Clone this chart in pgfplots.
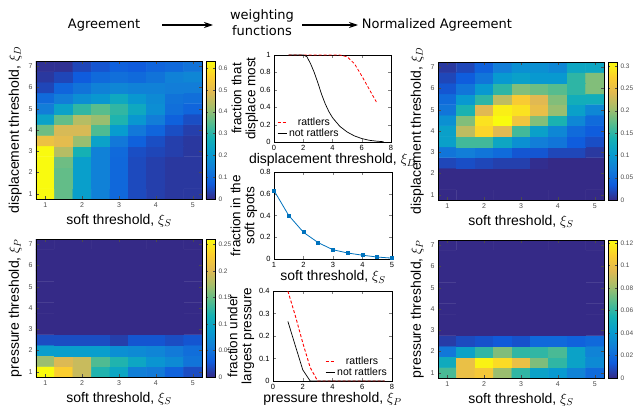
\documentclass[border=0pt]{standalone}
\usepackage{pgfplots}
\pgfplotsset{compat=1.18}
\usepackage{fontspec}
\setmainfont{Liberation Sans}
\newfontfamily\titlefont{DejaVu Sans}
\usetikzlibrary{arrows.meta}

\pgfplotsset{
  colormap={parula}{rgb255=(53,42,135) rgb255=(15,92,221) rgb255=(18,125,216)
    rgb255=(7,156,207) rgb255=(21,177,180) rgb255=(89,189,140) rgb255=(165,190,107)
    rgb255=(225,185,82) rgb255=(252,206,46) rgb255=(249,251,14)},
  base/.style={
    scale only axis,
    /pgf/number format/assume math mode=true,
    /pgf/number format/fixed, /pgf/number format/precision=3,
    tick align=inside, xtick pos=both, ytick pos=both,
    major tick length=3pt,
    label style={font=\fontsize{14}{16}\selectfont},
  },
  heat/.style={
    base,
    width=166pt, height=138pt,
    xmin=0.75, xmax=5.25, ymin=0.75, ymax=7.25,
    xtick={1,...,5}, ytick={1,...,7},
    tick label style={font=\fontsize{7}{8}\selectfont, text=black!70},
    tick style={black!70},
    axis on top,
    colormap name=parula,
    colorbar,
    colorbar shift/.style={},
    colorbar style={
      at={(parent axis.north east)}, anchor=north west, xshift=4pt,
      width=9pt,
      major tick length=2pt,
      yticklabel style={font=\fontsize{6.5}{7}\selectfont, text=black!70,
        /pgf/number format/fixed, /pgf/number format/precision=3},
      /pgf/number format/assume math mode=true,
    },
    xlabel={soft threshold, $\xi_S$},
  },
  mid/.style={
    base,
    tick label style={font=\fontsize{7.5}{8}\selectfont},
    xlabel shift=-4pt,
    ylabel style={align=center, font=\fontsize{13.5}{14}\selectfont},
    legend style={draw=none, fill=none, font=\fontsize{10.5}{11}\selectfont,
      row sep=-2pt},
    legend image code/.code={\draw[#1] (0pt,0pt) -- (9pt,0pt);},
  },
}

\begin{document}
\begin{tikzpicture}

% titles
\node[font=\titlefont\fontsize{13}{15}\selectfont] at (104pt,-25pt) {Agreement};
\node[font=\titlefont\fontsize{13}{16}\selectfont, align=center] at (262pt,-23pt) {weighting\\functions};
\node[font=\titlefont\fontsize{13}{15}\selectfont] at (437pt,-25pt) {Normalized Agreement};
\draw[-{Stealth[length=9pt,width=6pt]}, line width=1.1pt] (162pt,-25pt) -- (213pt,-25pt);
\draw[-{Stealth[length=9pt,width=6pt]}, line width=1.1pt] (302pt,-25pt) -- (358pt,-25pt);

% Agreement, displacement
\begin{axis}[heat, at={(36pt,-199pt)}, anchor=south west,
  ylabel={displacement threshold, $\xi_D$},
  point meta min=0, point meta max=0.632,
  colorbar style={ytick={0,0.1,0.2,0.3,0.4,0.5,0.6}}]
\addplot[matrix plot*, mesh/cols=9, mesh/rows=13, point meta=explicit] coordinates {
(1,1)[0.63] (1.5,1)[0.36] (2,1)[0.22] (2.5,1)[0.15] (3,1)[0.095] (3.5,1)[0.045] (4,1)[0.03] (4.5,1)[0.02] (5,1)[0.02]
(1,1.5)[0.63] (1.5,1.5)[0.36] (2,1.5)[0.22] (2.5,1.5)[0.15] (3,1.5)[0.095] (3.5,1.5)[0.045] (4,1.5)[0.03] (4.5,1.5)[0.02] (5,1.5)[0.02]
(1,2)[0.63] (1.5,2)[0.36] (2,2)[0.22] (2.5,2)[0.15] (3,2)[0.095] (3.5,2)[0.045] (4,2)[0.03] (4.5,2)[0.02] (5,2)[0.02]
(1,2.5)[0.63] (1.5,2.5)[0.37] (2,2.5)[0.22] (2.5,2.5)[0.15] (3,2.5)[0.095] (3.5,2.5)[0.045] (4,2.5)[0.03] (4.5,2.5)[0.02] (5,2.5)[0.02]
(1,3)[0.63] (1.5,3)[0.44] (2,3)[0.28] (2.5,3)[0.15] (3,3)[0.1] (3.5,3)[0.05] (4,3)[0.04] (4.5,3)[0.03] (5,3)[0.02]
(1,3.5)[0.52] (1.5,3.5)[0.50] (2,3.5)[0.41] (2.5,3.5)[0.23] (3,3.5)[0.13] (3.5,3.5)[0.08] (4,3.5)[0.05] (4.5,3.5)[0.03] (5,3.5)[0.02]
(1,4)[0.37] (1.5,4)[0.48] (2,4)[0.48] (2.5,4)[0.34] (3,4)[0.21] (3.5,4)[0.13] (4,4)[0.09] (4.5,4)[0.05] (5,4)[0.03]
(1,4.5)[0.23] (1.5,4.5)[0.36] (2,4.5)[0.44] (2.5,4.5)[0.41] (3,4.5)[0.29] (3.5,4.5)[0.2] (4,4.5)[0.14] (4.5,4.5)[0.08] (5,4.5)[0.05]
(1,5)[0.14] (1.5,5)[0.23] (2,5)[0.31] (2.5,5)[0.35] (3,5)[0.31] (3.5,5)[0.25] (4,5)[0.18] (4.5,5)[0.11] (5,5)[0.09]
(1,5.5)[0.1] (1.5,5.5)[0.14] (2,5.5)[0.18] (2.5,5.5)[0.2] (3,5.5)[0.25] (3.5,5.5)[0.2] (4,5.5)[0.17] (4.5,5.5)[0.12] (5,5.5)[0.11]
(1,6)[0.04] (1.5,6)[0.09] (2,6)[0.12] (2.5,6)[0.15] (3,6)[0.16] (3.5,6)[0.15] (4,6)[0.15] (4.5,6)[0.14] (5,6)[0.14]
(1,6.5)[0.02] (1.5,6.5)[0.04] (2,6.5)[0.07] (2.5,6.5)[0.1] (3,6.5)[0.11] (3.5,6.5)[0.1] (4,6.5)[0.12] (4.5,6.5)[0.15] (5,6.5)[0.16]
(1,7)[0.01] (1.5,7)[0.01] (2,7)[0.04] (2.5,7)[0.06] (3,7)[0.08] (3.5,7)[0.07] (4,7)[0.09] (4.5,7)[0.1] (5,7)[0.12]
};
\end{axis}

% Normalized agreement, displacement
\begin{axis}[heat, at={(438pt,-200pt)}, anchor=south west,
  ylabel={displacement threshold, $\xi_D$},
  point meta min=0, point meta max=0.309,
  colorbar style={ytick={0,0.05,0.1,0.15,0.2,0.25,0.3}}]
\addplot[matrix plot*, mesh/cols=9, mesh/rows=13, point meta=explicit] coordinates {
(1,1)[0] (1.5,1)[0] (2,1)[0] (2.5,1)[0] (3,1)[0] (3.5,1)[0] (4,1)[0] (4.5,1)[0] (5,1)[0]
(1,1.5)[0] (1.5,1.5)[0] (2,1.5)[0] (2.5,1.5)[0] (3,1.5)[0] (3.5,1.5)[0] (4,1.5)[0] (4.5,1.5)[0] (5,1.5)[0]
(1,2)[0] (1.5,2)[0] (2,2)[0] (2.5,2)[0] (3,2)[0] (3.5,2)[0] (4,2)[0] (4.5,2)[0] (5,2)[0]
(1,2.5)[0.02] (1.5,2.5)[0.025] (2,2.5)[0.02] (2.5,2.5)[0.015] (3,2.5)[0.015] (3.5,2.5)[0.003] (4,2.5)[0] (4.5,2.5)[0] (5,2.5)[0]
(1,3)[0.06] (1.5,3)[0.07] (2,3)[0.06] (2.5,3)[0.05] (3,3)[0.03] (3.5,3)[0.03] (4,3)[0.02] (4.5,3)[0.02] (5,3)[0.01]
(1,3.5)[0.11] (1.5,3.5)[0.16] (2,3.5)[0.16] (2.5,3.5)[0.12] (3,3.5)[0.09] (3.5,3.5)[0.07] (4,3.5)[0.06] (4.5,3.5)[0.035] (5,3.5)[0.025]
(1,4)[0.11] (1.5,4)[0.22] (2,4)[0.28] (2.5,4)[0.24] (3,4)[0.16] (3.5,4)[0.11] (4,4)[0.08] (4.5,4)[0.05] (5,4)[0.035]
(1,4.5)[0.09] (1.5,4.5)[0.19] (2,4.5)[0.29] (2.5,4.5)[0.31] (3,4.5)[0.26] (3.5,4.5)[0.19] (4,4.5)[0.14] (4.5,4.5)[0.08] (5,4.5)[0.05]
(1,5)[0.06] (1.5,5)[0.14] (2,5)[0.24] (2.5,5)[0.3] (3,5)[0.29] (3.5,5)[0.25] (4,5)[0.2] (4.5,5)[0.11] (5,5)[0.08]
(1,5.5)[0.05] (1.5,5.5)[0.1] (2,5.5)[0.15] (2.5,5.5)[0.22] (3,5.5)[0.27] (3.5,5.5)[0.24] (4,5.5)[0.19] (4.5,5.5)[0.13] (5,5.5)[0.13]
(1,6)[0.03] (1.5,6)[0.06] (2,6)[0.1] (2.5,6)[0.15] (3,6)[0.19] (3.5,6)[0.18] (4,6)[0.17] (4.5,6)[0.15] (5,6)[0.19]
(1,6.5)[0.02] (1.5,6.5)[0.035] (2,6.5)[0.06] (2.5,6.5)[0.1] (3,6.5)[0.11] (3.5,6.5)[0.1] (4,6.5)[0.1] (4.5,6.5)[0.15] (5,6.5)[0.19]
(1,7)[0.01] (1.5,7)[0.02] (2,7)[0.04] (2.5,7)[0.07] (3,7)[0.09] (3.5,7)[0.09] (4,7)[0.08] (4.5,7)[0.12] (5,7)[0.12]
};
\end{axis}

% Agreement, pressure
\begin{axis}[heat, at={(36pt,-377pt)}, anchor=south west,
  ylabel={pressure threshold, $\xi_P$},
  point meta min=0, point meta max=0.26,
  colorbar style={ytick={0,0.05,0.1,0.15,0.2,0.25}}]
\addplot[matrix plot*, mesh/cols=9, mesh/rows=13, point meta=explicit] coordinates {
(1,1)[0.26] (1.5,1)[0.23] (2,1)[0.19] (2.5,1)[0.12] (3,1)[0.1] (3.5,1)[0.06] (4,1)[0.055] (4.5,1)[0.035] (5,1)[0.02]
(1,1.5)[0.17] (1.5,1.5)[0.2] (2,1.5)[0.19] (2.5,1.5)[0.14] (3,1.5)[0.12] (3.5,1.5)[0.1] (4,1.5)[0.08] (4.5,1.5)[0.07] (5,1.5)[0.05]
(1,2)[0.09] (1.5,2)[0.09] (2,2)[0.09] (2.5,2)[0.09] (3,2)[0.075] (3.5,2)[0.07] (4,2)[0.065] (4.5,2)[0.055] (5,2)[0.045]
(1,2.5)[0.02] (1.5,2.5)[0.02] (2,2.5)[0.02] (2.5,2.5)[0.02] (3,2.5)[0.012] (3.5,2.5)[0.025] (4,2.5)[0.025] (4.5,2.5)[0.02] (5,2.5)[0.025]
(1,3)[0] (1.5,3)[0] (2,3)[0] (2.5,3)[0] (3,3)[0] (3.5,3)[0] (4,3)[0] (4.5,3)[0] (5,3)[0]
(1,3.5)[0] (1.5,3.5)[0] (2,3.5)[0] (2.5,3.5)[0] (3,3.5)[0] (3.5,3.5)[0] (4,3.5)[0] (4.5,3.5)[0] (5,3.5)[0]
(1,4)[0] (1.5,4)[0] (2,4)[0] (2.5,4)[0] (3,4)[0] (3.5,4)[0] (4,4)[0] (4.5,4)[0] (5,4)[0]
(1,4.5)[0] (1.5,4.5)[0] (2,4.5)[0] (2.5,4.5)[0] (3,4.5)[0] (3.5,4.5)[0] (4,4.5)[0] (4.5,4.5)[0] (5,4.5)[0]
(1,5)[0] (1.5,5)[0] (2,5)[0] (2.5,5)[0] (3,5)[0] (3.5,5)[0] (4,5)[0] (4.5,5)[0] (5,5)[0]
(1,5.5)[0] (1.5,5.5)[0] (2,5.5)[0] (2.5,5.5)[0] (3,5.5)[0] (3.5,5.5)[0] (4,5.5)[0] (4.5,5.5)[0] (5,5.5)[0]
(1,6)[0] (1.5,6)[0] (2,6)[0] (2.5,6)[0] (3,6)[0] (3.5,6)[0] (4,6)[0] (4.5,6)[0] (5,6)[0]
(1,6.5)[0] (1.5,6.5)[0] (2,6.5)[0] (2.5,6.5)[0] (3,6.5)[0] (3.5,6.5)[0] (4,6.5)[0] (4.5,6.5)[0] (5,6.5)[0]
(1,7)[0] (1.5,7)[0] (2,7)[0] (2.5,7)[0] (3,7)[0] (3.5,7)[0] (4,7)[0] (4.5,7)[0] (5,7)[0]
};
\end{axis}

% Normalized agreement, pressure
\begin{axis}[heat, at={(438pt,-378pt)}, anchor=south west,
  ylabel={pressure threshold, $\xi_P$},
  point meta min=0, point meta max=0.1227,
  colorbar style={ytick={0,0.02,0.04,0.06,0.08,0.1,0.12}}]
\addplot[matrix plot*, mesh/cols=9, mesh/rows=13, point meta=explicit] coordinates {
(1,1)[0.065] (1.5,1)[0.1] (2,1)[0.105] (2.5,1)[0.08] (3,1)[0.06] (3.5,1)[0.045] (4,1)[0.04] (4.5,1)[0.03] (5,1)[0.02]
(1,1.5)[0.05] (1.5,1.5)[0.1] (2,1.5)[0.12] (2.5,1.5)[0.113] (3,1.5)[0.1] (3.5,1.5)[0.075] (4,1.5)[0.06] (4.5,1.5)[0.045] (5,1.5)[0.033]
(1,2)[0.025] (1.5,2)[0.045] (2,2)[0.06] (2.5,2)[0.075] (3,2)[0.06] (3.5,2)[0.06] (4,2)[0.065] (4.5,2)[0.045] (5,2)[0.03]
(1,2.5)[0.005] (1.5,2.5)[0.009] (2,2.5)[0.011] (2.5,2.5)[0.013] (3,2.5)[0.011] (3.5,2.5)[0.019] (4,2.5)[0.019] (4.5,2.5)[0.016] (5,2.5)[0.019]
(1,3)[0] (1.5,3)[0] (2,3)[0] (2.5,3)[0] (3,3)[0] (3.5,3)[0] (4,3)[0] (4.5,3)[0] (5,3)[0]
(1,3.5)[0] (1.5,3.5)[0] (2,3.5)[0] (2.5,3.5)[0] (3,3.5)[0] (3.5,3.5)[0] (4,3.5)[0] (4.5,3.5)[0] (5,3.5)[0]
(1,4)[0] (1.5,4)[0] (2,4)[0] (2.5,4)[0] (3,4)[0] (3.5,4)[0] (4,4)[0] (4.5,4)[0] (5,4)[0]
(1,4.5)[0] (1.5,4.5)[0] (2,4.5)[0] (2.5,4.5)[0] (3,4.5)[0] (3.5,4.5)[0] (4,4.5)[0] (4.5,4.5)[0] (5,4.5)[0]
(1,5)[0] (1.5,5)[0] (2,5)[0] (2.5,5)[0] (3,5)[0] (3.5,5)[0] (4,5)[0] (4.5,5)[0] (5,5)[0]
(1,5.5)[0] (1.5,5.5)[0] (2,5.5)[0] (2.5,5.5)[0] (3,5.5)[0] (3.5,5.5)[0] (4,5.5)[0] (4.5,5.5)[0] (5,5.5)[0]
(1,6)[0] (1.5,6)[0] (2,6)[0] (2.5,6)[0] (3,6)[0] (3.5,6)[0] (4,6)[0] (4.5,6)[0] (5,6)[0]
(1,6.5)[0] (1.5,6.5)[0] (2,6.5)[0] (2.5,6.5)[0] (3,6.5)[0] (3.5,6.5)[0] (4,6.5)[0] (4.5,6.5)[0] (5,6.5)[0]
(1,7)[0] (1.5,7)[0] (2,7)[0] (2.5,7)[0] (3,7)[0] (3.5,7)[0] (4,7)[0] (4.5,7)[0] (5,7)[0]
};
\end{axis}

% weighting: displacement
\begin{axis}[mid, at={(274pt,-142pt)}, anchor=south west, width=117pt, height=87pt,
  xmin=0, xmax=8, ymin=0, ymax=1,
  xtick={0,2,4,6,8}, ytick={0,0.2,0.4,0.6,0.8,1},
  xlabel={displacement threshold, $\xi_D$},
  ylabel={fraction that\\displace most}, ylabel shift=-5pt,
  legend style={at={(0.0,0.0)}, anchor=south west}]
\addplot[red, line width=0.8pt, dash pattern=on 3pt off 2pt] coordinates {
(1,1) (2,1) (3,1) (4,1) (4.5,1) (5,0.98) (5.5,0.9) (6,0.76) (6.5,0.61) (7,0.46)};
\addlegendentry{rattlers}
\addplot[black, line width=0.7pt] coordinates {
(1,1) (2,1) (2.25,0.98) (2.5,0.9) (2.75,0.8) (3,0.68) (3.25,0.55) (3.5,0.44) (3.75,0.35)
(4,0.28) (4.5,0.18) (5,0.115) (5.5,0.07) (6,0.04) (6.5,0.02) (7,0.01) (7.5,0.003)};
\addlegendentry{not rattlers}
\end{axis}

% weighting: soft
\begin{axis}[mid, at={(274pt,-259pt)}, anchor=south west, width=118pt, height=87pt,
  xmin=1, xmax=5, ymin=0, ymax=0.8,
  xtick={1,2,3,4,5}, ytick={0,0.2,0.4,0.6,0.8},
  xlabel={soft threshold, $\xi_S$},
  ylabel={fraction in the\\soft spots}, ylabel shift=-4pt]
\addplot[color={rgb,255:red,0;green,114;blue,189}, line width=0.8pt, mark=square*, mark size=1.5pt] coordinates {
(1,0.63) (1.5,0.40) (2,0.245) (2.5,0.15) (3,0.085) (3.5,0.055) (4,0.035) (4.5,0.018) (5,0.008)};
\end{axis}

% weighting: pressure
\begin{axis}[mid, at={(273pt,-381pt)}, anchor=south west, width=119pt, height=90pt,
  xmin=0, xmax=8, ymin=0, ymax=0.4,
  xtick={0,2,4,6,8}, ytick={0,0.1,0.2,0.3,0.4},
  xlabel={pressure threshold, $\xi_P$},
  ylabel={fraction under\\largest pressure}, ylabel shift=-2pt,
  legend style={at={(1.0,0.0)}, anchor=south east}]
\addplot[red, line width=0.9pt, dash pattern=on 3pt off 2pt] coordinates {
(1,0.40) (1.5,0.29) (2,0.17) (2.5,0.06) (3,0) (3.5,0) (4,0) (4.5,0) (5,0) (5.5,0) (6,0) (6.5,0) (7,0) (7.5,0)};
\addlegendentry{rattlers}
\addplot[black, line width=0.7pt] coordinates {
(1,0.265) (1.5,0.157) (2,0.05) (2.5,0) (3,0) (3.5,0) (4,0) (4.5,0) (5,0) (5.5,0) (6,0) (6.5,0) (7,0) (7.5,0)};
\addlegendentry{not rattlers}
\end{axis}

\pgfresetboundingbox
\useasboundingbox (0pt,0pt) rectangle (634pt,-412pt);
\end{tikzpicture}
\end{document}
